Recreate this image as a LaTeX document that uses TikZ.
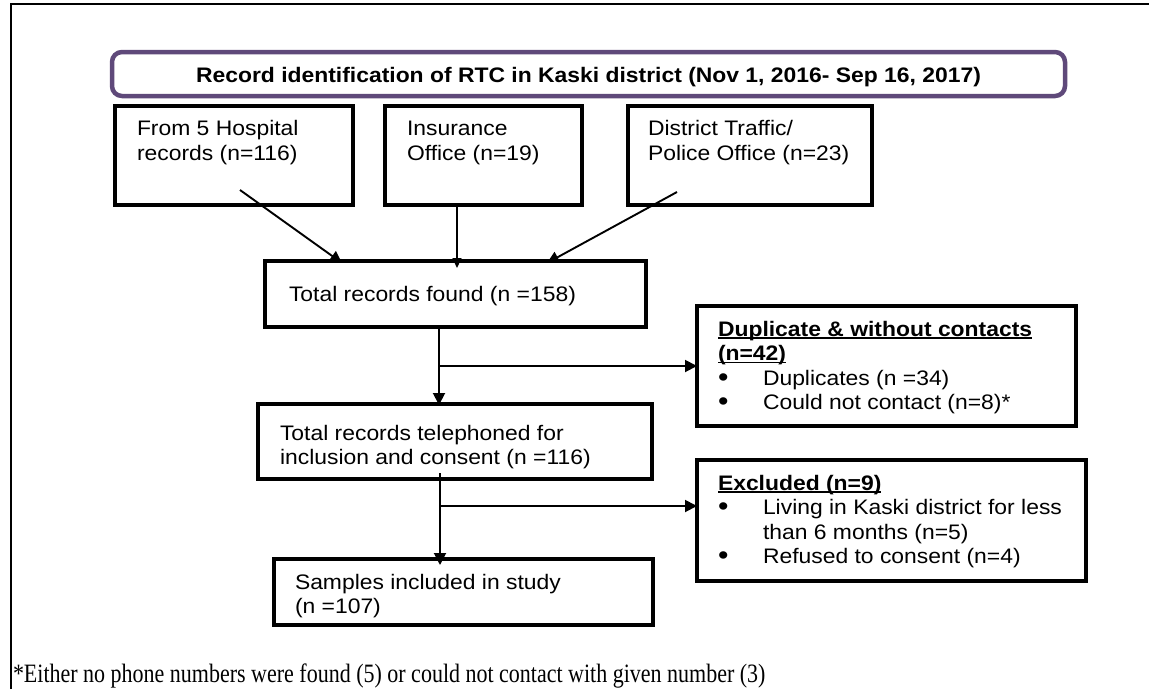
\documentclass[tikz,border=0pt]{standalone}
\usepackage{fontspec}
\setmainfont{Liberation Sans}
\newfontfamily\boxfont[FakeStretch=1.09]{Liberation Sans}
\newfontfamily\notefont[FakeStretch=0.83]{Liberation Serif}
\usetikzlibrary{arrows.meta,calc}
\definecolor{hdrpurple}{RGB}{95,73,122}
\newsavebox\ulbox
\newcommand\myul[1]{\sbox\ulbox{#1}\rlap{\rule[-2.6pt]{\wd\ulbox}{1.5pt}}\usebox\ulbox}
\newcommand\bul{\makebox[45pt][l]{\raisebox{-1.2pt}{\scalebox{1.3}{•}}}}
\begin{document}
\begin{tikzpicture}[x=1pt,y=-1pt,
  box/.style={draw, line width=4pt, rectangle, inner sep=0pt, outer sep=0pt, anchor=north west},
  hdr/.style={draw=hdrpurple, line width=4.5pt, rounded corners=10pt, inner sep=0pt, outer sep=0pt,
    font=\boxfont\bfseries\fontsize{21}{24}\selectfont, text height=20pt, text depth=2.6pt},
  txt/.style={font=\boxfont\fontsize{21}{24.5}\selectfont, inner sep=0pt, outer sep=0pt, anchor=base west, align=left},
  note/.style={font=\notefont\fontsize{26.5}{30}\selectfont, inner sep=0pt, outer sep=0pt, anchor=base west},
  arr/.style={line width=1.9pt, -{Triangle[length=12pt,width=12pt]}},
  arrthin/.style={line width=1.5pt, -{Triangle[length=10pt,width=9pt]}},
  frame/.style={line width=1.3pt}]
\useasboundingbox (0,0) rectangle (1149,689);
% outer frame
\draw[frame] (11,689) -- (11,4) -- (1149,4);
% header
\node[hdr, minimum width=953pt, minimum height=44pt] (h) at (588.5,74)
  {Record identification of RTC in Kaski district (Nov 1, 2016- Sep 16, 2017)};
% boxes
\node[box, minimum width=238pt, minimum height=99pt] (b1) at (115,106) {};
\node[box, minimum width=197pt, minimum height=99pt] (b2) at (385,106) {};
\node[box, minimum width=244pt, minimum height=99pt] (b3) at (628,106) {};
\node[box, minimum width=381pt, minimum height=66pt] (tf) at (265,261) {};
\node[box, minimum width=379pt, minimum height=120pt] (dup) at (697,306) {};
\node[box, minimum width=394pt, minimum height=75pt] (tel) at (258,404) {};
\node[box, minimum width=389pt, minimum height=121pt] (excl) at (697,460) {};
\node[box, minimum width=379pt, minimum height=66pt] (samp) at (274,559) {};
% texts (anchor = baseline of the last line)
\node[txt] (t1) at (137,160) {From 5 Hospital\\records (n=116)};
\node[txt] (t2) at (407,160) {Insurance\\Office (n=19)};
\node[txt] (t3) at (648,160) {District Traffic/\\Police Office (n=23)};
\node[txt] (t4) at (289,301.5) {Total records found (n =158)};
\node[txt] (t5) at (280,464.5) {Total records telephoned for\\inclusion and consent (n =116)};
\node[txt] (t6) at (295,613.5) {Samples included in study\\(n =107)};
\node[txt] (t7) at (718,409.5) {\textbf{\myul{Duplicate \& without contacts}}\\\textbf{\myul{(n=42)}}\\\bul Duplicates (n =34)\\\bul Could not contact (n=8)*};
\node[txt] (t8) at (718,563.5) {\textbf{\myul{Excluded (n=9)}}\\\bul Living in Kaski district for less\\\hspace*{45pt}than 6 months (n=5)\\\bul Refused to consent (n=4)};
\node[note] (fn) at (13,682) {*Either no phone numbers were found (5) or could not contact with given number (3)};
% connectors (positive y offsets point down)
\draw[arr] ($(b1.south)+(6,-15)$) -- ($(tf.north west)+(77,2)$);
\draw[arrthin] ($(b2.south)+(-26.5,0)$) -- ($(tf.north west)+(192,7)$);
\draw[arr] ($(b3.south)+(-73,-13)$) -- ($(tf.north west)+(282,2)$);
\coordinate (s1) at ($(tf.south)+(-16.5,0)$);
\draw[arr] (s1) -- ($(s1 |- tel.north)+(0,1)$);
\coordinate (j1) at (s1 |- dup.west);
\draw[arr] (j1) -- (dup.west);
\coordinate (s2) at ($(tel.south)+(-15,-6)$);
\draw[arr] (s2) -- ($(s2 |- samp.north)+(0,6)$);
\coordinate (j2) at ($(tel.south)+(-15,27)$);
\draw[arr] (j2) -- (j2 -| excl.west);
\end{tikzpicture}
\end{document}
